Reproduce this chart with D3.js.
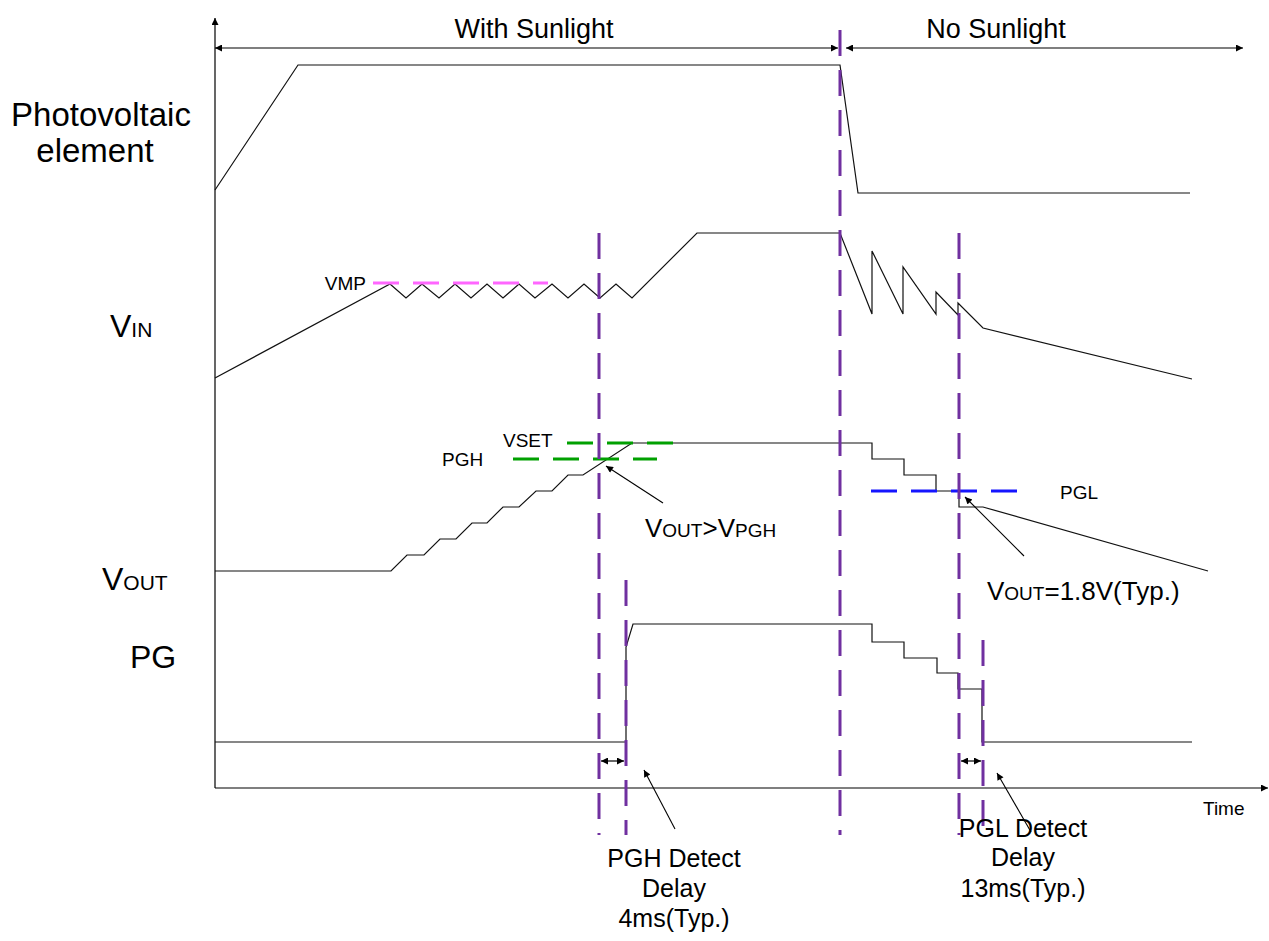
<!DOCTYPE html>
<html>
<head>
<meta charset="utf-8">
<script src="https://cdn.jsdelivr.net/npm/d3@7.9.0/dist/d3.min.js"></script>
<style>
  html, body { margin: 0; padding: 0; background: #fff; }
  svg { display: block; font-family: "Liberation Sans", Arial, sans-serif; }
</style>
</head>
<body>
<svg id="chart" width="1269" height="941"></svg>
<script>
// time in arbitrary units from the y axis, level in arbitrary units above the time axis
const pvWave = [[0, 598], [83, 723], [625, 723], [643, 595], [975, 595]];

const vinWave = [
  [0, 410], [175, 504], [191, 490], [207, 504], [224, 490], [240, 504], [256, 490],
  [272, 504], [288, 490], [304, 504], [320, 490], [337, 504], [353, 490], [369, 504],
  [385, 490], [401, 504], [417, 490], [482, 555], [625, 555], [657, 474], [657, 537],
  [688, 474], [688, 521], [721, 474], [721, 496], [743, 473], [743, 485], [768, 460],
  [977, 409]
];

const voutWave = [
  [0, 217], [176, 217], [192, 233], [209, 233], [225, 249], [241, 249], [257, 265],
  [272, 265], [288, 281], [304, 281], [321, 297], [337, 297], [353, 313], [368, 313],
  [417, 345], [657, 345], [657, 329], [689, 329], [689, 313], [721, 313], [721, 297],
  [744, 297], [744, 281], [768, 281], [993, 217]
];

const pgWave = [
  [0, 46], [411, 46], [411, 141], [418, 164], [657, 164], [657, 146], [689, 146],
  [689, 130], [722, 130], [722, 115], [743, 115], [743, 99], [767, 99], [767, 46],
  [977, 46]
];

// threshold levels: [name, level, tStart, tEnd, colour]
const thresholds = [
  ["VMP", 505, 158, 333, "#ff66ff"],
  ["VSET", 345, 352, 460, "#00a000"],
  ["PGH", 329, 298, 442, "#00a000"],
  ["PGL", 297, 656, 805, "#1515ff"]
];

// event markers: [time, top level]
const markers = [[384, 555], [411, 208], [625, 758], [744, 555], [768, 148]];

const sunSpans = [[0, 623, "With Sunlight"], [631, 1028, "No Sunlight"]];
const delaySpans = [[384, 411], [744, 768]];

// annotation pointers: [tFrom, vFrom, tTo, vTo]
const pointers = [
  [448, 285, 391, 322],
  [809, 232, 750, 291],
  [460, -41, 429, 18],
  [816, -44, 782, 15]
];

const svg = d3.select("#chart");
const x = d3.scaleLinear().domain([0, 1050]).range([215, 1265]);
const y = d3.scaleLinear().domain([0, 770]).range([788, 18]);

const defs = svg.append("defs");
function arrowMarker(id, orient) {
  defs.append("marker")
    .attr("id", id)
    .attr("viewBox", "0 0 10 10")
    .attr("refX", 10).attr("refY", 5)
    .attr("markerWidth", 10).attr("markerHeight", 7)
    .attr("markerUnits", "userSpaceOnUse")
    .attr("orient", orient)
    .append("path")
    .attr("d", "M0,0 L10,5 L0,10 z")
    .attr("fill", "#000");
}
arrowMarker("head", "auto");
arrowMarker("both", "auto-start-reverse");

const line = d3.line().x(d => x(d[0])).y(d => y(d[1]));

// axes
svg.append("line")
  .attr("x1", x(0)).attr("y1", y(0)).attr("x2", x(0)).attr("y2", y(770))
  .attr("stroke", "#000").attr("stroke-width", 1.2)
  .attr("marker-end", "url(#head)");
svg.append("line")
  .attr("x1", x(0)).attr("y1", y(0)).attr("x2", x(1053)).attr("y2", y(0))
  .attr("stroke", "#000").attr("stroke-width", 1.2)
  .attr("marker-end", "url(#head)");

// sunlight spans
sunSpans.forEach(([a, b, label]) => {
  svg.append("line")
    .attr("x1", x(a)).attr("y1", y(740)).attr("x2", x(b)).attr("y2", y(740))
    .attr("stroke", "#000").attr("stroke-width", 1.2)
    .attr("marker-start", "url(#both)").attr("marker-end", "url(#both)");
  svg.append("text")
    .attr("x", x(a === 0 ? 319 : 781)).attr("y", y(750))
    .attr("text-anchor", "middle").attr("font-size", 27)
    .text(label);
});

// waveforms
[pvWave, vinWave, voutWave, pgWave].forEach(w => {
  svg.append("path")
    .attr("d", line(w))
    .attr("fill", "none").attr("stroke", "#111").attr("stroke-width", 1.2);
});

// thresholds
thresholds.forEach(([name, lv, a, b, col]) => {
  svg.append("line")
    .attr("x1", x(a)).attr("x2", x(b)).attr("y1", y(lv)).attr("y2", y(lv))
    .attr("stroke", col).attr("stroke-width", 3)
    .attr("stroke-dasharray", "26,14");
});

// event markers
markers.forEach(([t, top]) => {
  svg.append("line")
    .attr("x1", x(t)).attr("x2", x(t)).attr("y1", y(top)).attr("y2", y(-47))
    .attr("stroke", "#7030a0").attr("stroke-width", 3)
    .attr("stroke-dasharray", "26,14");
});

// delay spans
delaySpans.forEach(([a, b]) => {
  svg.append("line")
    .attr("x1", x(a) + 2).attr("x2", x(b) - 2).attr("y1", y(27)).attr("y2", y(27))
    .attr("stroke", "#000").attr("stroke-width", 1.2)
    .attr("marker-start", "url(#both)").attr("marker-end", "url(#both)");
});

// pointers
pointers.forEach(([t0, v0, t1, v1]) => {
  svg.append("line")
    .attr("x1", x(t0)).attr("y1", y(v0)).attr("x2", x(t1)).attr("y2", y(v1))
    .attr("stroke", "#000").attr("stroke-width", 1.1)
    .attr("marker-end", "url(#head)");
});

// text helpers
function label(t, v, parts, anchor) {
  const el = svg.append("text")
    .attr("x", x(t)).attr("y", y(v))
    .attr("text-anchor", anchor || "start")
    .attr("fill", "#000");
  parts.forEach(([s, size]) => el.append("tspan").attr("font-size", size).text(s));
  return el;
}

// row labels
label(-114, 662, [["Photovoltaic", 33]], "middle");
label(-120, 626, [["element", 33]], "middle");
label(-105, 451, [["V", 32], ["IN", 21]]);
label(-113, 198, [["V", 32], ["OUT", 21]]);
label(-85, 120, [["PG", 32]]);

// threshold labels
label(151, 498, [["VMP", 19]], "end");
label(288, 341, [["VSET", 19]]);
label(227, 322, [["PGH", 19]]);
label(845, 289, [["PGL", 19]]);

// annotations
label(430, 251, [["V", 26], ["OUT", 19], [">V", 26], ["PGH", 19]]);
label(772, 188, [["V", 26], ["OUT", 19], ["=1.8V(Typ.)", 26]]);

[["PGH Detect", -79], ["Delay", -109], ["4ms(Typ.)", -139]]
  .forEach(([s, v]) => label(459, v, [[s, 25]], "middle"));
[["PGL Detect", -49], ["Delay", -78], ["13ms(Typ.)", -109]]
  .forEach(([s, v]) => label(808, v, [[s, 25]], "middle"));

label(988, -27, [["Time", 19]]);
</script>
</body>
</html>
